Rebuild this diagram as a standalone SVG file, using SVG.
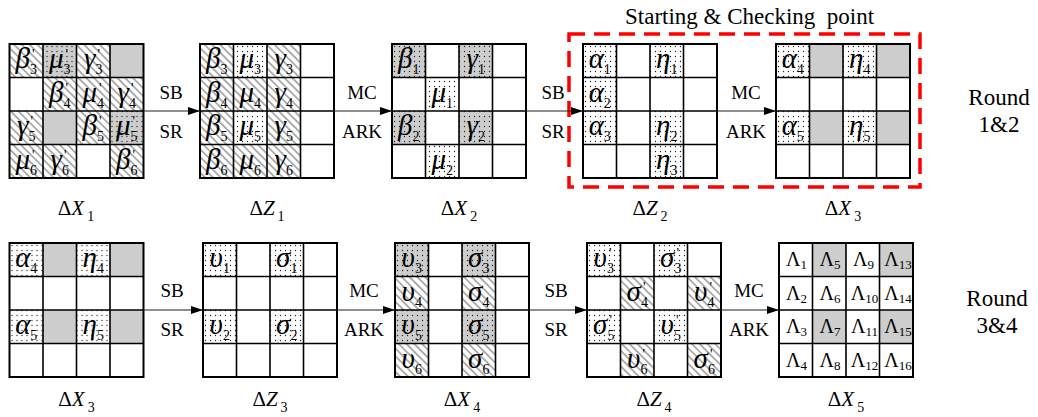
<svg xmlns="http://www.w3.org/2000/svg" width="1038" height="417" viewBox="0 0 1038 417">
<style>
text{font-family:"Liberation Serif","Times New Roman",Times,"DejaVu Serif",serif;fill:#000}
.g{font-style:italic;font-size:29px;text-anchor:middle}
.s{font-style:normal;font-size:14px}
.L{font-size:20px;text-anchor:middle}
.L .s{font-size:13px}
.op{font-size:19px;text-anchor:middle}
.lab{font-size:21px;text-anchor:middle}
.it{font-style:italic}
.rd{font-size:23px;text-anchor:middle}
.title{font-size:23px;white-space:pre}
.h{fill:url(#hatch)}
.d{fill:url(#dots)}
.gd{fill:url(#gdots)}
.gr{fill:#cdcdcd}
.arr{stroke:#222;stroke-width:1.2;fill:none;marker-end:url(#ah)}
</style>
<defs>
<pattern id="hatch" width="5.5" height="5.5" patternUnits="userSpaceOnUse" patternTransform="rotate(-45)">
<rect width="5.5" height="5.5" fill="#fff"/>
<line x1="2.75" y1="0" x2="2.75" y2="5.5" stroke="#aaaaaa" stroke-width="1.8"/>
</pattern>
<pattern id="dots" width="5" height="5" patternUnits="userSpaceOnUse">
<rect width="5" height="5" fill="#fff"/>
<circle cx="2.5" cy="2.5" r="0.65" fill="#222"/>
</pattern>
<pattern id="gdots" width="5" height="5" patternUnits="userSpaceOnUse">
<rect width="5" height="5" fill="#cdcdcd"/>
<circle cx="2.5" cy="2.5" r="0.65" fill="#222"/>
</pattern>
<g id="grid">
<rect x="0" y="0" width="134" height="134" fill="none" stroke="#000" stroke-width="2"/>
<path d="M33.5 0V134M67 0V134M100.5 0V134M0 33.5H134M0 67H134M0 100.5H134" stroke="#000" stroke-width="1.6" fill="none"/>
</g>
<marker id="ah" markerWidth="12" markerHeight="8" refX="12" refY="4" orient="auto" markerUnits="userSpaceOnUse">
<path d="M0,0 L12,4 L0,8 z" fill="#000"/>
</marker>
</defs>
<rect width="1038" height="417" fill="#fff"/>

<g id="checkbox">
<rect x="569" y="34" width="351" height="153" fill="none" stroke="#f00" stroke-width="3.5" stroke-dasharray="16 9"/>
<text class="title" x="625" y="24">Starting &amp; Checking  point</text>
</g>

<!-- Row 1 -->
<g id="dX1" transform="translate(9.5,44)">
<rect class="h" x="0" y="0" width="33.5" height="33.5"/>
<rect class="gd" x="33.5" y="0" width="33.5" height="33.5"/>
<rect class="h" x="67" y="0" width="33.5" height="33.5"/>
<rect class="gr" x="100.5" y="0" width="33.5" height="33.5"/>
<rect class="h" x="33.5" y="33.5" width="33.5" height="33.5"/>
<rect class="h" x="67" y="33.5" width="33.5" height="33.5"/>
<rect class="h" x="100.5" y="33.5" width="33.5" height="33.5"/>
<rect class="h" x="0" y="67" width="33.5" height="33.5"/>
<rect class="gr" x="33.5" y="67" width="33.5" height="33.5"/>
<rect class="h" x="67" y="67" width="33.5" height="33.5"/>
<rect class="gd" x="100.5" y="67" width="33.5" height="33.5"/>
<rect class="h" x="0" y="100.5" width="33.5" height="33.5"/>
<rect class="h" x="33.5" y="100.5" width="33.5" height="33.5"/>
<rect class="h" x="100.5" y="100.5" width="33.5" height="33.5"/>
<use href="#grid"/>
<text class="g" x="16.75" y="24">β<tspan class="s" dy="6">3</tspan><tspan class="s" dx="-5" dy="-15">'</tspan></text>
<text class="g" x="50.25" y="24">μ<tspan class="s" dy="6">3</tspan><tspan class="s" dx="-5" dy="-15">'</tspan></text>
<text class="g" x="83.75" y="24">γ<tspan class="s" dy="6">3</tspan><tspan class="s" dx="-5" dy="-15">'</tspan></text>
<text class="g" x="50.25" y="57.5">β<tspan class="s" dy="6">4</tspan><tspan class="s" dx="-5" dy="-15">'</tspan></text>
<text class="g" x="83.75" y="57.5">μ<tspan class="s" dy="6">4</tspan><tspan class="s" dx="-5" dy="-15">'</tspan></text>
<text class="g" x="117.25" y="57.5">γ<tspan class="s" dy="6">4</tspan><tspan class="s" dx="-5" dy="-15">'</tspan></text>
<text class="g" x="16.75" y="91">γ<tspan class="s" dy="6">5</tspan><tspan class="s" dx="-5" dy="-15">'</tspan></text>
<text class="g" x="83.75" y="91">β<tspan class="s" dy="6">5</tspan><tspan class="s" dx="-5" dy="-15">'</tspan></text>
<text class="g" x="117.25" y="91">μ<tspan class="s" dy="6">5</tspan><tspan class="s" dx="-5" dy="-15">'</tspan></text>
<text class="g" x="16.75" y="124.5">μ<tspan class="s" dy="6">6</tspan><tspan class="s" dx="-5" dy="-15">'</tspan></text>
<text class="g" x="50.25" y="124.5">γ<tspan class="s" dy="6">6</tspan><tspan class="s" dx="-5" dy="-15">'</tspan></text>
<text class="g" x="117.25" y="124.5">β<tspan class="s" dy="6">6</tspan><tspan class="s" dx="-5" dy="-15">'</tspan></text>
<text class="lab" x="66.5" y="171">Δ<tspan class="it">X</tspan><tspan class="s" dx="3" dy="6">1</tspan></text>
</g>

<g id="dZ1" transform="translate(200,44)">
<rect class="h" x="0" y="0" width="33.5" height="33.5"/>
<rect class="d" x="33.5" y="0" width="33.5" height="33.5"/>
<rect class="h" x="67" y="0" width="33.5" height="33.5"/>
<rect class="h" x="0" y="33.5" width="33.5" height="33.5"/>
<rect class="h" x="33.5" y="33.5" width="33.5" height="33.5"/>
<rect class="h" x="67" y="33.5" width="33.5" height="33.5"/>
<rect class="h" x="0" y="67" width="33.5" height="33.5"/>
<rect class="d" x="33.5" y="67" width="33.5" height="33.5"/>
<rect class="h" x="67" y="67" width="33.5" height="33.5"/>
<rect class="h" x="0" y="100.5" width="33.5" height="33.5"/>
<rect class="h" x="33.5" y="100.5" width="33.5" height="33.5"/>
<rect class="h" x="67" y="100.5" width="33.5" height="33.5"/>
<use href="#grid"/>
<text class="g" x="16.75" y="24">β<tspan class="s" dy="6">3</tspan></text>
<text class="g" x="50.25" y="24">μ<tspan class="s" dy="6">3</tspan></text>
<text class="g" x="83.75" y="24">γ<tspan class="s" dy="6">3</tspan></text>
<text class="g" x="16.75" y="57.5">β<tspan class="s" dy="6">4</tspan></text>
<text class="g" x="50.25" y="57.5">μ<tspan class="s" dy="6">4</tspan></text>
<text class="g" x="83.75" y="57.5">γ<tspan class="s" dy="6">4</tspan></text>
<text class="g" x="16.75" y="91">β<tspan class="s" dy="6">5</tspan></text>
<text class="g" x="50.25" y="91">μ<tspan class="s" dy="6">5</tspan></text>
<text class="g" x="83.75" y="91">γ<tspan class="s" dy="6">5</tspan></text>
<text class="g" x="16.75" y="124.5">β<tspan class="s" dy="6">6</tspan></text>
<text class="g" x="50.25" y="124.5">μ<tspan class="s" dy="6">6</tspan></text>
<text class="g" x="83.75" y="124.5">γ<tspan class="s" dy="6">6</tspan></text>
<text class="lab" x="67" y="171">Δ<tspan class="it">Z</tspan><tspan class="s" dx="3" dy="6">1</tspan></text>
</g>

<g id="dX2" transform="translate(392,44)">
<rect class="gd" x="0" y="0" width="33.5" height="33.5"/>
<rect class="gd" x="67" y="0" width="33.5" height="33.5"/>
<rect class="d" x="33.5" y="33.5" width="33.5" height="33.5"/>
<rect class="gd" x="0" y="67" width="33.5" height="33.5"/>
<rect class="gd" x="67" y="67" width="33.5" height="33.5"/>
<rect class="d" x="33.5" y="100.5" width="33.5" height="33.5"/>
<use href="#grid"/>
<text class="g" x="16.75" y="24">β<tspan class="s" dy="6">1</tspan></text>
<text class="g" x="83.75" y="24">γ<tspan class="s" dy="6">1</tspan></text>
<text class="g" x="50.25" y="57.5">μ<tspan class="s" dy="6">1</tspan></text>
<text class="g" x="16.75" y="91">β<tspan class="s" dy="6">2</tspan></text>
<text class="g" x="83.75" y="91">γ<tspan class="s" dy="6">2</tspan></text>
<text class="g" x="50.25" y="124.5">μ<tspan class="s" dy="6">2</tspan></text>
<text class="lab" x="67" y="171">Δ<tspan class="it">X</tspan><tspan class="s" dx="3" dy="6">2</tspan></text>
</g>

<g id="dZ2" transform="translate(583,44)">
<rect class="d" x="0" y="0" width="33.5" height="33.5"/>
<rect class="d" x="67" y="0" width="33.5" height="33.5"/>
<rect class="d" x="0" y="33.5" width="33.5" height="33.5"/>
<rect class="d" x="0" y="67" width="33.5" height="33.5"/>
<rect class="d" x="67" y="67" width="33.5" height="33.5"/>
<rect class="d" x="67" y="100.5" width="33.5" height="33.5"/>
<use href="#grid"/>
<text class="g" x="16.75" y="24">α<tspan class="s" dy="6">1</tspan></text>
<text class="g" x="83.75" y="24">η<tspan class="s" dy="6">1</tspan></text>
<text class="g" x="16.75" y="57.5">α<tspan class="s" dy="6">2</tspan></text>
<text class="g" x="16.75" y="91">α<tspan class="s" dy="6">3</tspan></text>
<text class="g" x="83.75" y="91">η<tspan class="s" dy="6">2</tspan></text>
<text class="g" x="83.75" y="124.5">η<tspan class="s" dy="6">3</tspan></text>
<text class="lab" x="67" y="171">Δ<tspan class="it">Z</tspan><tspan class="s" dx="3" dy="6">2</tspan></text>
</g>

<g id="dX3a" transform="translate(776,44)">
<rect class="d" x="0" y="0" width="33.5" height="33.5"/>
<rect class="gr" x="33.5" y="0" width="33.5" height="33.5"/>
<rect class="d" x="67" y="0" width="33.5" height="33.5"/>
<rect class="gr" x="100.5" y="0" width="33.5" height="33.5"/>
<rect class="d" x="0" y="67" width="33.5" height="33.5"/>
<rect class="gr" x="33.5" y="67" width="33.5" height="33.5"/>
<rect class="d" x="67" y="67" width="33.5" height="33.5"/>
<rect class="gr" x="100.5" y="67" width="33.5" height="33.5"/>
<use href="#grid"/>
<text class="g" x="16.75" y="24">α<tspan class="s" dy="6">4</tspan></text>
<text class="g" x="83.75" y="24">η<tspan class="s" dy="6">4</tspan></text>
<text class="g" x="16.75" y="91">α<tspan class="s" dy="6">5</tspan></text>
<text class="g" x="83.75" y="91">η<tspan class="s" dy="6">5</tspan></text>
<text class="lab" x="67" y="171">Δ<tspan class="it">X</tspan><tspan class="s" dx="3" dy="6">3</tspan></text>
</g>

<!-- Row 2 -->
<g id="dX3b" transform="translate(9.5,243)">
<rect class="d" x="0" y="0" width="33.5" height="33.5"/>
<rect class="gr" x="33.5" y="0" width="33.5" height="33.5"/>
<rect class="d" x="67" y="0" width="33.5" height="33.5"/>
<rect class="gr" x="100.5" y="0" width="33.5" height="33.5"/>
<rect class="d" x="0" y="67" width="33.5" height="33.5"/>
<rect class="gr" x="33.5" y="67" width="33.5" height="33.5"/>
<rect class="d" x="67" y="67" width="33.5" height="33.5"/>
<rect class="gr" x="100.5" y="67" width="33.5" height="33.5"/>
<use href="#grid"/>
<text class="g" x="16.75" y="24">α<tspan class="s" dy="6">4</tspan></text>
<text class="g" x="83.75" y="24">η<tspan class="s" dy="6">4</tspan></text>
<text class="g" x="16.75" y="91">α<tspan class="s" dy="6">5</tspan></text>
<text class="g" x="83.75" y="91">η<tspan class="s" dy="6">5</tspan></text>
<text class="lab" x="67" y="163">Δ<tspan class="it">X</tspan><tspan class="s" dx="3" dy="6">3</tspan></text>
</g>

<g id="dZ3" transform="translate(203,243)">
<rect class="d" x="0" y="0" width="33.5" height="33.5"/>
<rect class="d" x="67" y="0" width="33.5" height="33.5"/>
<rect class="d" x="0" y="67" width="33.5" height="33.5"/>
<rect class="d" x="67" y="67" width="33.5" height="33.5"/>
<use href="#grid"/>
<text class="g" x="16.75" y="24">υ<tspan class="s" dy="6">1</tspan></text>
<text class="g" x="83.75" y="24">σ<tspan class="s" dy="6">1</tspan></text>
<text class="g" x="16.75" y="91">υ<tspan class="s" dy="6">2</tspan></text>
<text class="g" x="83.75" y="91">σ<tspan class="s" dy="6">2</tspan></text>
<text class="lab" x="67" y="163">Δ<tspan class="it">Z</tspan><tspan class="s" dx="3" dy="6">3</tspan></text>
</g>

<g id="dX4" transform="translate(395,243)">
<rect class="gd" x="0" y="0" width="33.5" height="33.5"/>
<rect class="gd" x="67" y="0" width="33.5" height="33.5"/>
<rect class="h" x="0" y="33.5" width="33.5" height="33.5"/>
<rect class="h" x="67" y="33.5" width="33.5" height="33.5"/>
<rect class="gd" x="0" y="67" width="33.5" height="33.5"/>
<rect class="gd" x="67" y="67" width="33.5" height="33.5"/>
<rect class="h" x="0" y="100.5" width="33.5" height="33.5"/>
<rect class="h" x="67" y="100.5" width="33.5" height="33.5"/>
<use href="#grid"/>
<text class="g" x="16.75" y="24">υ<tspan class="s" dy="6">3</tspan></text>
<text class="g" x="83.75" y="24">σ<tspan class="s" dy="6">3</tspan></text>
<text class="g" x="16.75" y="57.5">υ<tspan class="s" dy="6">4</tspan></text>
<text class="g" x="83.75" y="57.5">σ<tspan class="s" dy="6">4</tspan></text>
<text class="g" x="16.75" y="91">υ<tspan class="s" dy="6">5</tspan></text>
<text class="g" x="83.75" y="91">σ<tspan class="s" dy="6">5</tspan></text>
<text class="g" x="16.75" y="124.5">υ<tspan class="s" dy="6">6</tspan></text>
<text class="g" x="83.75" y="124.5">σ<tspan class="s" dy="6">6</tspan></text>
<text class="lab" x="67" y="163">Δ<tspan class="it">X</tspan><tspan class="s" dx="3" dy="6">4</tspan></text>
</g>

<g id="dZ4" transform="translate(587,243)">
<rect class="d" x="0" y="0" width="33.5" height="33.5"/>
<rect class="d" x="67" y="0" width="33.5" height="33.5"/>
<rect class="h" x="33.5" y="33.5" width="33.5" height="33.5"/>
<rect class="h" x="100.5" y="33.5" width="33.5" height="33.5"/>
<rect class="d" x="0" y="67" width="33.5" height="33.5"/>
<rect class="d" x="67" y="67" width="33.5" height="33.5"/>
<rect class="h" x="33.5" y="100.5" width="33.5" height="33.5"/>
<rect class="h" x="100.5" y="100.5" width="33.5" height="33.5"/>
<use href="#grid"/>
<text class="g" x="16.75" y="24">υ<tspan class="s" dy="6">3</tspan><tspan class="s" dx="-5" dy="-15">'</tspan></text>
<text class="g" x="83.75" y="24">σ<tspan class="s" dy="6">3</tspan><tspan class="s" dx="-5" dy="-15">'</tspan></text>
<text class="g" x="50.25" y="57.5">σ<tspan class="s" dy="6">4</tspan><tspan class="s" dx="-5" dy="-15">'</tspan></text>
<text class="g" x="117.25" y="57.5">υ<tspan class="s" dy="6">4</tspan><tspan class="s" dx="-5" dy="-15">'</tspan></text>
<text class="g" x="16.75" y="91">σ<tspan class="s" dy="6">5</tspan><tspan class="s" dx="-5" dy="-15">'</tspan></text>
<text class="g" x="83.75" y="91">υ<tspan class="s" dy="6">5</tspan><tspan class="s" dx="-5" dy="-15">'</tspan></text>
<text class="g" x="50.25" y="124.5">υ<tspan class="s" dy="6">6</tspan><tspan class="s" dx="-5" dy="-15">'</tspan></text>
<text class="g" x="117.25" y="124.5">σ<tspan class="s" dy="6">6</tspan><tspan class="s" dx="-5" dy="-15">'</tspan></text>
<text class="lab" x="67" y="163">Δ<tspan class="it">Z</tspan><tspan class="s" dx="3" dy="6">4</tspan></text>
</g>

<g id="dX5" transform="translate(779,243)">
<rect class="gr" x="33.5" y="0" width="33.5" height="33.5"/>
<rect class="gr" x="100.5" y="0" width="33.5" height="33.5"/>
<rect class="gr" x="33.5" y="67" width="33.5" height="33.5"/>
<rect class="gr" x="100.5" y="67" width="33.5" height="33.5"/>
<use href="#grid"/>
<text class="L" x="17.5" y="23">Λ<tspan class="s" dy="3">1</tspan></text>
<text class="L" x="17.5" y="56.5">Λ<tspan class="s" dy="3">2</tspan></text>
<text class="L" x="17.5" y="90">Λ<tspan class="s" dy="3">3</tspan></text>
<text class="L" x="17.5" y="123.5">Λ<tspan class="s" dy="3">4</tspan></text>
<text class="L" x="51" y="23">Λ<tspan class="s" dy="3">5</tspan></text>
<text class="L" x="51" y="56.5">Λ<tspan class="s" dy="3">6</tspan></text>
<text class="L" x="51" y="90">Λ<tspan class="s" dy="3">7</tspan></text>
<text class="L" x="51" y="123.5">Λ<tspan class="s" dy="3">8</tspan></text>
<text class="L" x="84.5" y="23">Λ<tspan class="s" dy="3">9</tspan></text>
<text class="L" x="85.5" y="56.5">Λ<tspan class="s" dy="3">10</tspan></text>
<text class="L" x="85.5" y="90">Λ<tspan class="s" dy="3">11</tspan></text>
<text class="L" x="85.5" y="123.5">Λ<tspan class="s" dy="3">12</tspan></text>
<text class="L" x="119" y="23">Λ<tspan class="s" dy="3">13</tspan></text>
<text class="L" x="119" y="56.5">Λ<tspan class="s" dy="3">14</tspan></text>
<text class="L" x="119" y="90">Λ<tspan class="s" dy="3">15</tspan></text>
<text class="L" x="119" y="123.5">Λ<tspan class="s" dy="3">16</tspan></text>
<text class="lab" x="67" y="163">Δ<tspan class="it">X</tspan><tspan class="s" dx="3" dy="6">5</tspan></text>
</g>

<g id="connectors">
<line class="arr" x1="143.5" y1="111" x2="200" y2="111"/>
<line class="arr" x1="334" y1="111" x2="392" y2="111"/>
<line class="arr" x1="526" y1="111" x2="583" y2="111"/>
<line class="arr" x1="717" y1="111" x2="776" y2="111"/>
<line class="arr" x1="143.5" y1="310" x2="203" y2="310"/>
<line class="arr" x1="337" y1="310" x2="395" y2="310"/>
<line class="arr" x1="529" y1="310" x2="587" y2="310"/>
<line class="arr" x1="721" y1="310" x2="779" y2="310"/>
<g id="oplabels">
<text class="op" x="171" y="99">SB</text><text class="op" x="171" y="138">SR</text>
<text class="op" x="362" y="99">MC</text><text class="op" x="362" y="138">ARK</text>
<text class="op" x="553" y="99">SB</text><text class="op" x="553" y="138">SR</text>
<text class="op" x="746" y="99">MC</text><text class="op" x="746" y="138">ARK</text>
<text class="op" x="172" y="297">SB</text><text class="op" x="172" y="336">SR</text>
<text class="op" x="364" y="297">MC</text><text class="op" x="364" y="336">ARK</text>
<text class="op" x="556" y="297">SB</text><text class="op" x="556" y="336">SR</text>
<text class="op" x="749" y="297">MC</text><text class="op" x="749" y="336">ARK</text>
</g>
</g>

<g id="rounds">
<text class="rd" x="999" y="105">Round</text>
<text class="rd" x="999" y="132">1&amp;2</text>
<text class="rd" x="997" y="306">Round</text>
<text class="rd" x="997" y="333">3&amp;4</text>
</g>
</svg>
